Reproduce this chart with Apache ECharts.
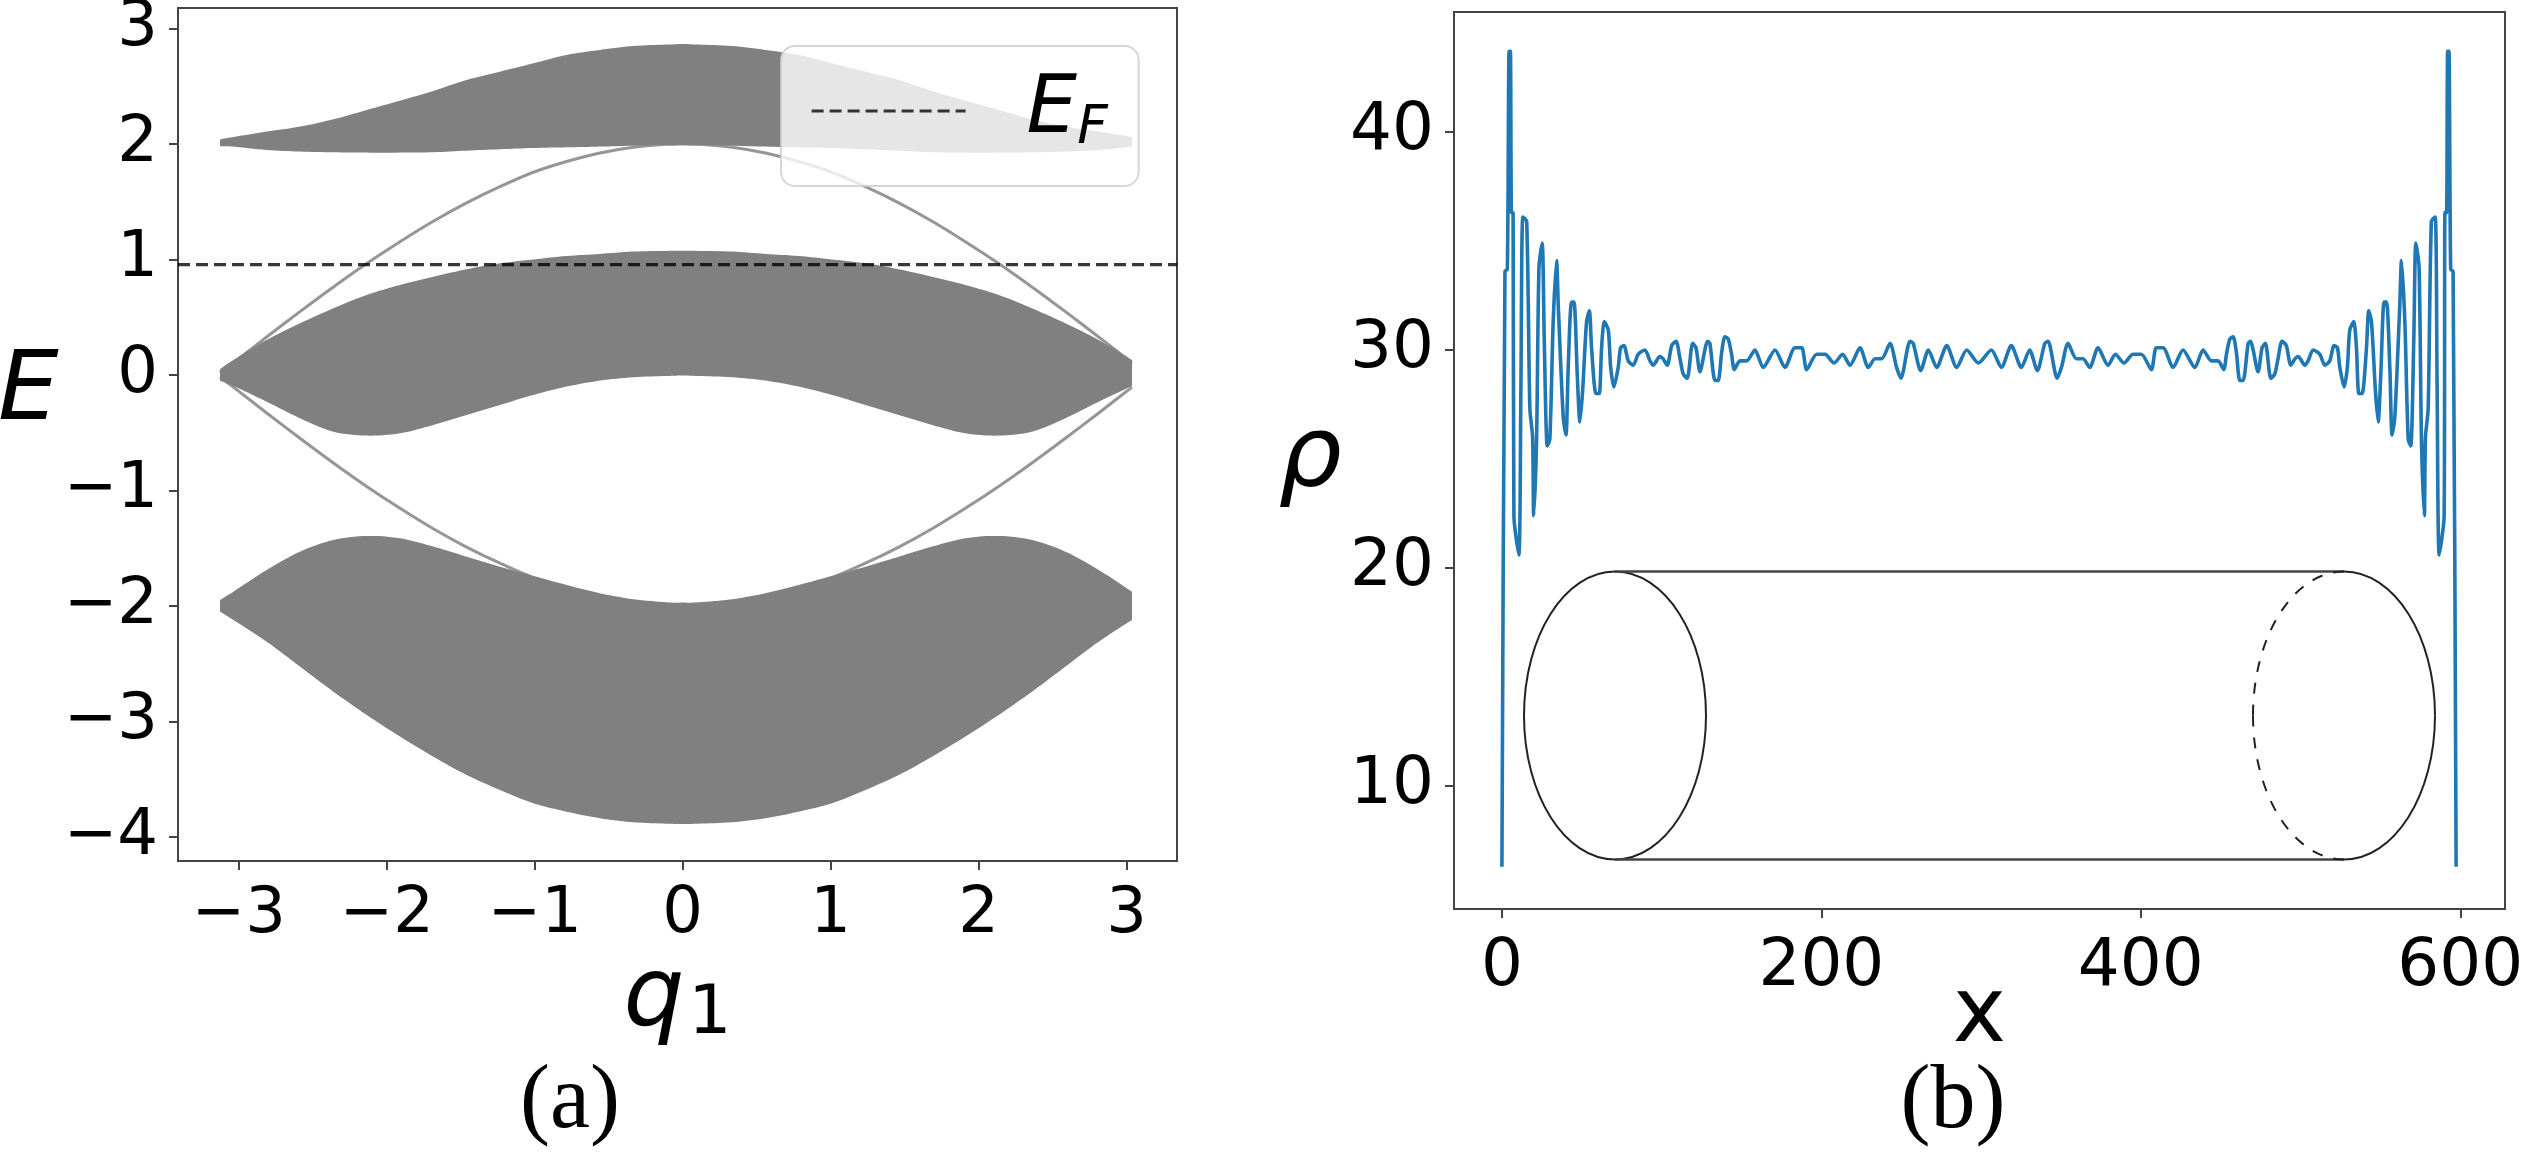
<!DOCTYPE html>
<html>
<head>
<meta charset="utf-8">
<style>html,body{margin:0;padding:0;background:#fff}#c{width:2528px;height:1154px}</style>
<script src="https://cdn.jsdelivr.net/npm/echarts@6/dist/echarts.min.js"></script>
</head>
<body>
<div id="c"></div>
<script>
// ---- panel (a): band structure ----
const qValues = [-3.126,-3.036,-2.811,-2.586,-2.360,-2.135,-1.910,-1.685,-1.460,-1.235,-1.009,-0.784,-0.559,-0.334,-0.108,0,0.108,0.334,0.559,0.784,1.009,1.235,1.460,1.685,1.910,2.135,2.360,2.586,2.811,3.036];
const topBandHi = [2.04,2.06,2.107,2.15,2.213,2.294,2.375,2.459,2.554,2.626,2.698,2.771,2.814,2.848,2.86,2.865,2.86,2.848,2.814,2.771,2.698,2.626,2.554,2.459,2.375,2.294,2.213,2.15,2.107,2.06];
const topBandLo = [1.98,1.977,1.948,1.934,1.928,1.925,1.925,1.928,1.942,1.954,1.965,1.971,1.977,1.985,1.989,1.99,1.989,1.985,1.977,1.971,1.965,1.954,1.942,1.928,1.925,1.925,1.928,1.934,1.948,1.977];
const midBandHi = [0.05,0.13,0.303,0.447,0.577,0.693,0.779,0.851,0.915,0.967,1.0,1.03,1.048,1.068,1.074,1.075,1.074,1.068,1.048,1.03,1.0,0.967,0.915,0.851,0.779,0.693,0.577,0.447,0.303,0.13];
const midBandLo = [-0.05,-0.095,-0.231,-0.375,-0.491,-0.525,-0.505,-0.433,-0.346,-0.26,-0.173,-0.101,-0.049,-0.02,-0.009,-0.005,-0.009,-0.02,-0.049,-0.101,-0.173,-0.26,-0.346,-0.433,-0.505,-0.525,-0.491,-0.375,-0.231,-0.095];
const lowBandHi = [-1.948,-1.876,-1.688,-1.53,-1.429,-1.394,-1.414,-1.486,-1.573,-1.66,-1.74,-1.818,-1.89,-1.942,-1.968,-1.971,-1.968,-1.942,-1.89,-1.818,-1.74,-1.66,-1.573,-1.486,-1.414,-1.394,-1.429,-1.53,-1.688,-1.876];
const lowBandLo = [-2.049,-2.121,-2.309,-2.525,-2.742,-2.944,-3.131,-3.305,-3.463,-3.593,-3.708,-3.781,-3.838,-3.873,-3.885,-3.887,-3.885,-3.873,-3.838,-3.781,-3.708,-3.593,-3.463,-3.305,-3.131,-2.944,-2.742,-2.525,-2.309,-2.121];
const edgeUpper = [0.02,0.105,0.329,0.548,0.762,0.965,1.154,1.331,1.49,1.63,1.755,1.848,1.922,1.972,1.997,2.0,1.997,1.972,1.922,1.848,1.755,1.63,1.49,1.331,1.154,0.965,0.762,0.548,0.329,0.105];
const edgeLower = [-0.02,-0.105,-0.329,-0.548,-0.762,-0.965,-1.154,-1.331,-1.49,-1.63,-1.755,-1.848,-1.922,-1.972,-1.997,-2.0,-1.997,-1.972,-1.922,-1.848,-1.755,-1.63,-1.49,-1.331,-1.154,-0.965,-0.762,-0.548,-0.329,-0.105];
const fermiEnergy = 0.955;
const qTicks = [-3,-2,-1,0,1,2,3];
const eTicks = [-4,-3,-2,-1,0,1,2,3];

// ---- panel (b): density profile; left half ----
const xLeft = [0,1.9,3.4,4.5,5.3,6,7,7.5,10.6,11.9,13.1,15.5,17.5,19.2,19.9,21.7,23.2,25.2,26.5,28.4,30,32.1,34.2,35.3,38.4,40.1,41.5,43.6,45.1,47.2,48.8,50.5,53,54.7,56.2,58.9,60.9,62.4,64.1,66.6,68.1,70.1,72.8,74.3,76.4,79.1,82.2,85.3,89.5,92.7,94.7,98.9,100.8,103.5,106.3,109,111.5,113.5,116,119.4,121.5,124,128.8,130.2,133.4,135.4,137.6,139.6,141.7,143.8,145.5,149,153.2,158.4,163.6,171,177.2,183.5,187.7,190.8,197.1,202.3,207.9,213.3,217.9,224.2,229.4,233.6,237.8,243,247.1,249.8,255.5,257.5,262.2,267,272.2,278.5,284.7,291,298.3];
const rhoLeft = [6.3,33.6,33.7,43.7,43.7,36.3,36.3,22.4,20.6,28.3,36.1,35.9,27.3,26,22.4,25.9,33.8,34.9,30.5,25.6,25.9,31.3,34.1,32,26.9,26.1,29.2,32.2,32.2,28.8,26.7,28.1,31.3,31.8,30,28,28,30.1,31.3,30.9,29.2,28.3,29.2,30.1,30.2,29.5,29.3,29.8,30,29.5,29.3,29.7,29.6,29.3,30.2,30.4,29.6,28.9,28.7,30.3,30.1,29,30.4,30.3,28.6,28.6,29.9,30.6,30.5,29.8,29.1,29.5,29.5,30,29.2,30,29.2,30.1,30.1,29.1,29.8,29.8,29.4,29.8,29.3,30.1,29.2,29.6,29.6,30.3,29.2,28.7,30.4,30.3,29.05,30,29.2,30.2,29.2,30,29.4];
const xEnd = 597.4; // the profile reads as mirror-symmetric about its centre
const xTicks = [0,200,400,600];
const rhoTicks = [10,20,30,40];

const rhoPairs = xLeft.map((x,i)=>[x,rhoLeft[i]]);
for (let i=xLeft.length-2;i>=0;i--) rhoPairs.push([+(xEnd-xLeft[i]).toFixed(1),rhoLeft[i]]);

// Rounds one band outline between the read points (drawing only), leaving the band ends square.
function rounded(pts){
  const out=[];
  for(let i=0;i<pts.length-1;i++){
    const p0=pts[Math.max(i-1,0)],p1=pts[i],p2=pts[i+1],p3=pts[Math.min(i+2,pts.length-1)];
    for(let s=0;s<8;s++){
      const t=s/8,t2=t*t,t3=t2*t;
      out.push([0,1].map(d=>0.5*(2*p1[d]+(p2[d]-p0[d])*t+(2*p0[d]-5*p1[d]+4*p2[d]-p3[d])*t2+(3*p1[d]-p0[d]-3*p2[d]+p3[d])*t3)));
    }
  }
  out.push(pts[pts.length-1]);
  return out;
}
const band = (hi,lo)=>({
  type:'custom', xAxisIndex:0, yAxisIndex:0, z:2, silent:true, clip:true,
  data:qValues.map((q,i)=>[q,lo[i],hi[i]]), encode:{x:0,y:[1,2]},
  renderItem:(p,api)=>{
    if(p.dataIndex!==0) return null;
    const up=rounded(qValues.map((q,i)=>api.coord([q,hi[i]])));
    const dn=rounded(qValues.map((q,i)=>api.coord([q,lo[i]]))).reverse();
    return {type:'polygon',shape:{points:up.concat(dn)},style:{fill:'#808080',stroke:'none'}};
  }
});
const edge = (vals)=>({
  type:'line', xAxisIndex:0, yAxisIndex:0, z:1, showSymbol:false, symbol:'none', silent:true, smooth:0.3,
  data:qValues.map((q,i)=>[q,vals[i]]), lineStyle:{color:'#969696',width:3}
});
const minus = v => String(v).replace('-','\u2212');
const FONT='"DejaVu Sans"';
const labelBase={fontFamily:FONT,fontSize:64,color:'#000'};
const axisCommon={
  splitLine:{show:false},
  axisLine:{show:false,onZero:false},
};
const tick=(vals)=>({show:true,length:9,inside:false,customValues:vals,lineStyle:{color:'#444',width:2}});

// decorative cylinder inset (panel b), in page pixels
const cy=715.5, ry=144, rx=91, k=0.5523;
const lcx=1615, rcx=2344;
const stroke='#222';
const bez=(x1,y1,c1x,c1y,c2x,c2y,x2,y2,style)=>({type:'bezierCurve',z:10,shape:{x1,y1,cpx1:c1x,cpy1:c1y,cpx2:c2x,cpy2:c2y,x2,y2},style:Object.assign({stroke,lineWidth:2,fill:'none'},style||{})});
const dash={lineDash:[11,11]};
const graphics=[
  {type:'ellipse',z:10,shape:{cx:lcx,cy,rx,ry},style:{stroke,lineWidth:2,fill:'none'}},
  {type:'line',z:10,shape:{x1:lcx,y1:cy-ry,x2:rcx,y2:cy-ry},style:{stroke:'#444',lineWidth:2.4}},
  {type:'line',z:10,shape:{x1:lcx,y1:cy+ry,x2:rcx,y2:cy+ry},style:{stroke:'#444',lineWidth:2.4}},
  bez(rcx,cy-ry,rcx+k*rx,cy-ry,rcx+rx,cy-k*ry,rcx+rx,cy),
  bez(rcx+rx,cy,rcx+rx,cy+k*ry,rcx+k*rx,cy+ry,rcx,cy+ry),
  bez(rcx,cy-ry,rcx-k*rx,cy-ry,rcx-rx,cy-k*ry,rcx-rx,cy,dash),
  bez(rcx-rx,cy,rcx-rx,cy+k*ry,rcx-k*rx,cy+ry,rcx,cy+ry,dash),
  {type:'text',z:10,x:570,y:1103,style:{text:'(a)',font:'90px "Liberation Serif"',fill:'#000',textAlign:'center',textVerticalAlign:'middle'}},
  {type:'text',z:10,x:1953,y:1103,style:{text:'(b)',font:'90px "Liberation Serif"',fill:'#000',textAlign:'center',textVerticalAlign:'middle'}}
];

const chart=echarts.init(document.getElementById('c'),null,{width:2528,height:1154,renderer:'canvas'});
chart.setOption({
  animation:false,
  backgroundColor:'#fff',
  grid:[
    {left:178,top:8,width:999,height:853,show:true,borderColor:'#444',borderWidth:2,containLabel:false,outerBoundsMode:'none',backgroundColor:'transparent'},
    {left:1454,top:12,width:1051,height:897,show:true,borderColor:'#444',borderWidth:2,containLabel:false,outerBoundsMode:'none',backgroundColor:'transparent'}
  ],
  xAxis:[
    Object.assign({},axisCommon,{type:'value',gridIndex:0,min:-3.41,max:3.34,
      axisTick:tick(qTicks),
      axisLabel:Object.assign({},labelBase,{customValues:qTicks,margin:22,formatter:minus,hideOverlap:false}),
      name:'{q|q}{s|1}',nameLocation:'middle',nameGap:82,
      nameTextStyle:{rich:{q:{fontFamily:FONT,fontStyle:'italic',fontSize:96,color:'#000'},s:{fontFamily:FONT,fontSize:68,color:'#000',verticalAlign:'bottom',padding:[30,0,0,4]}}}}),
    Object.assign({},axisCommon,{type:'value',gridIndex:1,min:-30,max:628,
      axisTick:tick(xTicks),
      axisLabel:Object.assign({},labelBase,{fontSize:66,customValues:xTicks,margin:26}),
      name:'x',nameLocation:'middle',nameGap:64,nameMoveOverlap:false,
      nameTextStyle:{fontFamily:FONT,fontSize:90,color:'#000'}})
  ],
  yAxis:[
    Object.assign({},axisCommon,{type:'value',gridIndex:0,min:-4.208,max:3.177,
      axisTick:tick(eTicks),
      axisLabel:Object.assign({},labelBase,{customValues:eTicks,margin:20,formatter:minus,padding:[12,0,0,0]}),
      name:'E',nameLocation:'middle',nameRotate:0,nameGap:104,
      nameTextStyle:{fontFamily:FONT,fontStyle:'italic',fontSize:96,color:'#000',verticalAlign:'bottom',lineHeight:80}}),
    Object.assign({},axisCommon,{type:'value',gridIndex:1,min:4.36,max:45.5,
      axisTick:tick(rhoTicks),
      axisLabel:Object.assign({},labelBase,{fontSize:66,customValues:rhoTicks,margin:20,padding:[10,0,0,0]}),
      name:'\u03C1',nameLocation:'middle',nameRotate:0,nameGap:112,
      nameTextStyle:{fontFamily:FONT,fontStyle:'italic',fontSize:100,color:'#000'}})
  ],
  legend:{
    show:true,data:['EF'],left:781,top:46,orient:'horizontal',
    itemWidth:154,itemHeight:4,itemGap:0,selectedMode:false,
    padding:[25,31,30,29],
    backgroundColor:'rgba(255,255,255,0.8)',borderColor:'rgba(204,204,204,0.8)',borderWidth:2,borderRadius:14,
    itemStyle:{opacity:0},
    lineStyle:{width:3.2,type:[12,6],color:'rgba(0,0,0,0.78)',opacity:1},
    formatter:()=>'{e|E}{f|F}',
    textStyle:{rich:{
      e:{fontFamily:FONT,fontStyle:'italic',fontSize:80,color:'#000',lineHeight:90,padding:[0,0,0,56]},
      f:{fontFamily:FONT,fontStyle:'italic',fontSize:53,color:'#000',verticalAlign:'bottom',lineHeight:90,padding:[0,0,0,0]}
    }}
  },
  series:[
    band(topBandHi,topBandLo),band(midBandHi,midBandLo),band(lowBandHi,lowBandLo),
    edge(edgeUpper),edge(edgeLower),
    {name:'EF',type:'line',xAxisIndex:0,yAxisIndex:0,z:3,showSymbol:false,symbol:'none',silent:true,
     data:[[-3.41,fermiEnergy],[3.34,fermiEnergy]],
     lineStyle:{color:'rgba(0,0,0,0.78)',width:3.2,type:[12,6]}},
    {name:'rho',type:'line',xAxisIndex:1,yAxisIndex:1,z:3,showSymbol:false,symbol:'none',silent:true,smooth:0.25,
     data:rhoPairs,lineStyle:{color:'#1f77b4',width:3.6}}
  ],
  graphic:graphics
});
</script>
</body>
</html>
